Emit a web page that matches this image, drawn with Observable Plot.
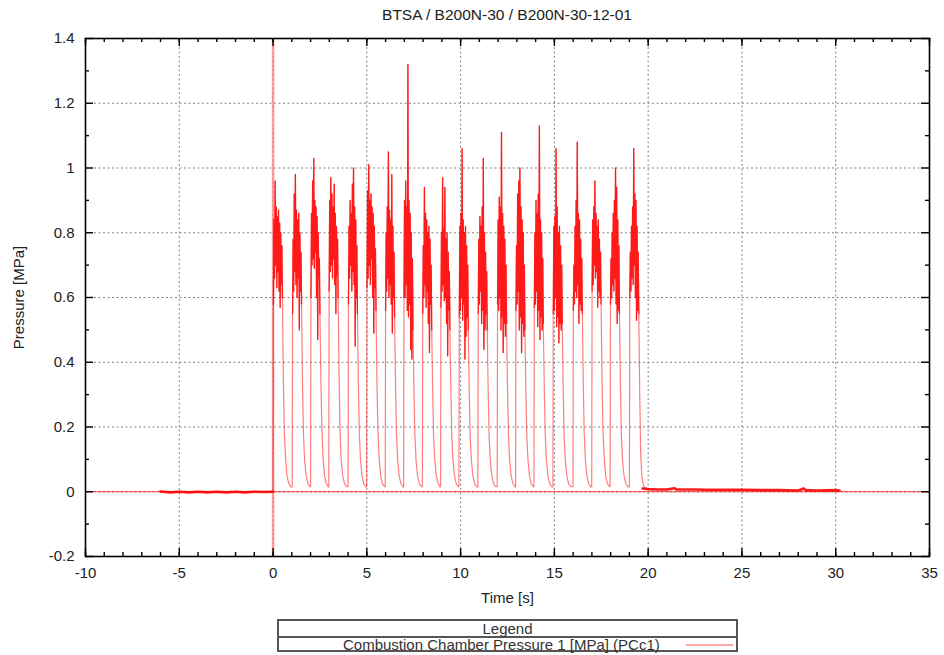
<!DOCTYPE html>
<html>
<head>
<meta charset="utf-8">
<script src="https://cdn.jsdelivr.net/npm/d3@7"></script>
<script src="https://cdn.jsdelivr.net/npm/@observablehq/plot@0.6"></script>
<style>
  body { margin: 0; background: #fff; }
  #wrap { position: relative; width: 944px; height: 655px; font-family: "Liberation Sans", Arial, sans-serif; color: #222; }
  #chart { position: absolute; left: 0; top: 0; }
  #title { position: absolute; left: 85px; width: 844px; top: 6px; text-align: center; font-size: 15.5px; }
  #legend { position: absolute; left: 277px; top: 619px; width: 461px; height: 33px; border: 2px solid #555; box-sizing: border-box; font-size: 15px; background: #fff; color: #333; }
  #legend .r1 { height: 15px; line-height: 15px; text-align: center; border-bottom: 2px solid #555; }
  #legend .r2 { position: relative; height: 14px; line-height: 14px; }
  #legend .r2 .txt { position: absolute; left: 64px; top: 0; white-space: nowrap; }
  #legend .r2 .smp { position: absolute; left: 407px; top: 6px; width: 47px; height: 2px; background: #ffaaaa; }
</style>
</head>
<body>
<div id="wrap">
  <div id="chart"></div>
  <div id="title">BTSA / B200N-30 / B200N-30-12-01</div>
  <div id="legend">
    <div class="r1">Legend</div>
    <div class="r2"><span class="txt">Combustion Chamber Pressure 1 [MPa] (PCc1)</span><span class="smp"></span></div>
  </div>
</div>
<script>
// ---- axis domains, tick values / labels ----
const xDomain = [-10, 35];
const yDomain = [-0.2, 1.4];
const xTicks = [-10, -5, 0, 5, 10, 15, 20, 25, 30, 35];
const xTickLabels = ["-10", "-5", "0", "5", "10", "15", "20", "25", "30", "35"];
const yTicks = [-0.2, 0, 0.2, 0.4, 0.6, 0.8, 1.0, 1.2, 1.4];
const yTickLabels = ["-0.2", "0", "0.2", "0.4", "0.6", "0.8", "1", "1.2", "1.4"];
const xMinorTicks = d3.range(-10, 36, 1);
const yMinorTicks = [-0.1, 0.1, 0.3, 0.5, 0.7, 0.9, 1.1, 1.3];

// ---- pre-test baseline (s, MPa) ----
const preTime = [-6.0, -5.5, -5.0, -4.5, -4.0, -3.5, -3.0, -2.5, -2.0, -1.5, -1.0, -0.5, 0.0];
const preP    = [0.001, -0.002, 0.000, -0.002, 0.000, -0.002, 0.000, -0.002, 0.000, -0.002, 0.000, -0.001, 0.000];

// ---- pulse start times (s) ----
const pulseStart = [0.00, 1.02, 2.00, 2.97, 4.00, 4.99, 5.98, 6.96, 7.96, 8.93,
                    9.91, 10.92, 11.95, 12.93, 13.91, 14.92, 15.99, 16.99, 17.97, 19.00];
// time offsets of the samples inside each pulse (s)
const pulseOffsets = [0, 0.02, 0.05, 0.08, 0.11, 0.14, 0.17, 0.20, 0.23, 0.26, 0.29, 0.32,
                      0.35, 0.38, 0.41, 0.44, 0.47, 0.50, 0.55, 0.60, 0.66, 0.74, 0.84, 0.95];
// pressure samples for each pulse (MPa)
const pulseValues = [
  [0.00, 0.58, 0.84, 0.66, 0.96, 0.70, 0.88, 0.63, 0.85, 0.68, 0.87, 0.62, 0.83, 0.57, 0.80, 0.64, 0.76, 0.60, 0.34, 0.19, 0.11, 0.05, 0.025, 0.015],
  [0.015, 0.55, 0.78, 0.62, 0.92, 0.68, 0.98, 0.64, 0.87, 0.60, 0.84, 0.66, 0.86, 0.50, 0.80, 0.62, 0.74, 0.58, 0.33, 0.18, 0.10, 0.05, 0.024, 0.016],
  [0.016, 0.60, 0.86, 0.70, 0.96, 0.72, 1.03, 0.69, 0.90, 0.74, 0.88, 0.60, 0.85, 0.47, 0.80, 0.66, 0.72, 0.55, 0.35, 0.20, 0.11, 0.05, 0.026, 0.015],
  [0.015, 0.62, 0.90, 0.68, 0.97, 0.70, 0.92, 0.66, 0.88, 0.72, 0.95, 0.64, 0.86, 0.55, 0.82, 0.67, 0.78, 0.60, 0.36, 0.19, 0.10, 0.05, 0.025, 0.016],
  [0.016, 0.58, 0.82, 0.66, 0.90, 0.70, 0.86, 0.62, 0.95, 0.68, 1.00, 0.64, 0.88, 0.45, 0.84, 0.60, 0.76, 0.55, 0.33, 0.18, 0.10, 0.05, 0.024, 0.015],
  [0.015, 0.63, 0.93, 0.66, 1.01, 0.70, 0.90, 0.64, 0.92, 0.72, 0.88, 0.60, 0.86, 0.49, 0.82, 0.63, 0.75, 0.56, 0.34, 0.19, 0.11, 0.05, 0.025, 0.016],
  [0.016, 0.56, 0.80, 0.62, 0.88, 0.66, 1.05, 0.60, 0.87, 0.64, 0.84, 0.58, 0.98, 0.49, 0.82, 0.60, 0.74, 0.54, 0.33, 0.18, 0.10, 0.05, 0.025, 0.015],
  [0.015, 0.60, 0.90, 0.60, 0.96, 0.64, 0.88, 0.56, 1.32, 0.54, 0.90, 0.58, 0.86, 0.44, 0.80, 0.41, 0.72, 0.50, 0.32, 0.18, 0.10, 0.05, 0.024, 0.016],
  [0.016, 0.55, 0.76, 0.60, 0.94, 0.64, 0.86, 0.57, 0.84, 0.62, 0.80, 0.52, 0.82, 0.43, 0.78, 0.58, 0.70, 0.50, 0.31, 0.17, 0.10, 0.05, 0.025, 0.015],
  [0.015, 0.57, 0.80, 0.62, 0.97, 0.64, 0.81, 0.59, 0.94, 0.60, 0.78, 0.52, 0.80, 0.42, 0.74, 0.56, 0.68, 0.50, 0.31, 0.17, 0.10, 0.05, 0.024, 0.016],
  [0.016, 0.54, 0.82, 0.56, 0.86, 0.60, 1.06, 0.53, 0.84, 0.58, 0.80, 0.41, 0.82, 0.48, 0.76, 0.54, 0.70, 0.50, 0.31, 0.17, 0.10, 0.05, 0.025, 0.015],
  [0.015, 0.55, 0.78, 0.58, 0.85, 0.62, 0.82, 0.52, 0.88, 0.56, 1.03, 0.44, 0.80, 0.50, 0.74, 0.55, 0.68, 0.50, 0.31, 0.17, 0.10, 0.05, 0.024, 0.016],
  [0.016, 0.58, 0.84, 0.56, 0.91, 0.60, 0.88, 0.50, 1.11, 0.54, 0.86, 0.43, 0.82, 0.52, 0.78, 0.48, 0.70, 0.52, 0.32, 0.18, 0.10, 0.05, 0.025, 0.015],
  [0.015, 0.56, 0.76, 0.58, 0.92, 0.62, 0.96, 0.50, 1.00, 0.54, 0.88, 0.43, 0.84, 0.52, 0.80, 0.48, 0.70, 0.50, 0.31, 0.17, 0.10, 0.05, 0.024, 0.016],
  [0.016, 0.57, 0.80, 0.58, 0.90, 0.62, 0.86, 0.51, 0.92, 0.56, 1.13, 0.47, 0.84, 0.54, 0.80, 0.50, 0.72, 0.52, 0.32, 0.18, 0.10, 0.05, 0.025, 0.015],
  [0.015, 0.55, 0.82, 0.56, 0.85, 0.60, 1.06, 0.51, 0.88, 0.54, 0.80, 0.46, 0.82, 0.52, 0.76, 0.50, 0.70, 0.52, 0.31, 0.17, 0.10, 0.05, 0.024, 0.016],
  [0.016, 0.56, 0.70, 0.58, 0.82, 0.62, 0.90, 0.60, 1.08, 0.64, 0.86, 0.52, 0.84, 0.58, 0.78, 0.56, 0.72, 0.55, 0.33, 0.18, 0.10, 0.05, 0.025, 0.015],
  [0.015, 0.62, 0.84, 0.64, 0.88, 0.70, 0.96, 0.66, 0.86, 0.68, 0.82, 0.57, 0.84, 0.62, 0.78, 0.60, 0.74, 0.58, 0.34, 0.19, 0.11, 0.05, 0.024, 0.016],
  [0.016, 0.58, 0.72, 0.60, 0.80, 0.64, 0.86, 0.62, 0.90, 0.66, 1.00, 0.58, 0.94, 0.52, 0.84, 0.56, 0.76, 0.55, 0.33, 0.18, 0.10, 0.05, 0.025, 0.015],
  [0.015, 0.60, 0.74, 0.62, 0.82, 0.66, 0.88, 0.64, 1.06, 0.70, 0.92, 0.60, 0.90, 0.53, 0.82, 0.56, 0.74, 0.55, 0.30, 0.12, 0.05, 0.02, 0.012, 0.010]
];

// ---- post-test baseline (s, MPa) ----
const postTime = [19.7, 20.0, 20.5, 21.0, 21.4, 21.5, 22.5, 23.0, 24.0, 25.0, 26.0, 27.0, 28.0, 28.3, 28.4, 29.0, 30.0, 30.2];
const postP    = [0.010, 0.008, 0.007, 0.007, 0.011, 0.007, 0.007, 0.006, 0.006, 0.006, 0.005, 0.005, 0.004, 0.010, 0.005, 0.004, 0.005, 0.004];

// ---- tables for Plot ----
const pre = preTime.map((t, i) => ({t, p: preP[i]}));
const post = postTime.map((t, i) => ({t, p: postP[i]}));
const pulses = [];
pulseStart.forEach((s, k) => pulseOffsets.forEach((o, i) =>
  pulses.push({t: s + o, p: pulseValues[k][i], k, plateau: i >= 1 && i <= 17})));
const plateaus = pulses.filter(d => d.plateau);

// inward tick-mark lengths (8 px major, 4 px minor) expressed in axis units
const frameW = 944 - 85 - 15, frameH = 655 - 38 - 99;
const pxX = (xDomain[1] - xDomain[0]) / frameW, pxY = (yDomain[1] - yDomain[0]) / frameH;
const tickStyle = {stroke: "black", strokeWidth: 1.4};
const ticksX = (vals, len) => [
  Plot.ruleX(vals, {...tickStyle, x: d => d, y1: yDomain[0], y2: yDomain[0] + len * pxY}),
  Plot.ruleX(vals, {...tickStyle, x: d => d, y1: yDomain[1] - len * pxY, y2: yDomain[1]})
];
const ticksY = (vals, len) => [
  Plot.ruleY(vals, {...tickStyle, y: d => d, x1: xDomain[0], x2: xDomain[0] + len * pxX}),
  Plot.ruleY(vals, {...tickStyle, y: d => d, x1: xDomain[1] - len * pxX, x2: xDomain[1]})
];

const chart = Plot.plot({
  width: 944,
  height: 655,
  marginLeft: 85,
  marginRight: 15,
  marginTop: 38,
  marginBottom: 99,
  style: {fontFamily: "Liberation Sans, Arial, sans-serif", fontSize: "15px", color: "#222", background: "#fff"},
  x: {domain: xDomain},
  y: {domain: yDomain},
  marks: [
    Plot.gridX(xTicks, {stroke: "#777", strokeDasharray: "2,2.5", strokeOpacity: 0.9}),
    Plot.gridY(yTicks, {stroke: "#777", strokeDasharray: "2,2.5", strokeOpacity: 0.9}),
    Plot.ruleY([0], {stroke: "red", strokeWidth: 1, strokeOpacity: 0.75}),
    Plot.ruleX([0], {stroke: "#ff8080", strokeWidth: 2.5, strokeOpacity: 0.75}),
    Plot.line(pre, {x: "t", y: "p", stroke: "red", strokeWidth: 2.6, strokeOpacity: 0.9}),
    Plot.line(pulses, {x: "t", y: "p", stroke: "red", strokeWidth: 1.2, strokeOpacity: 0.5}),
    Plot.line(plateaus, {x: "t", y: "p", z: "k", stroke: "red", strokeWidth: 1.3, strokeOpacity: 0.8}),
    Plot.line(post, {x: "t", y: "p", stroke: "red", strokeWidth: 2.6, strokeOpacity: 0.9}),
    Plot.frame({stroke: "black", strokeWidth: 1.6}),
    ...ticksX(xTicks, 8),
    ...ticksX(xMinorTicks, 4),
    ...ticksY(yTicks, 8),
    ...ticksY(yMinorTicks, 4),
    // labelled axes
    Plot.axisX(xTicks, {anchor: "bottom", tickSize: 0, tickPadding: 11, tickFormat: (d, i) => xTickLabels[i],
      label: "Time [s]", labelAnchor: "center", labelOffset: 46, labelArrow: "none"}),
    Plot.axisY(yTicks, {anchor: "left", tickSize: 0, tickPadding: 11, tickFormat: (d, i) => yTickLabels[i],
      label: "Pressure [MPa]", labelAnchor: "center", labelOffset: 72, labelArrow: "none"})
  ]
});
document.getElementById("chart").appendChild(chart);
</script>
</body>
</html>
